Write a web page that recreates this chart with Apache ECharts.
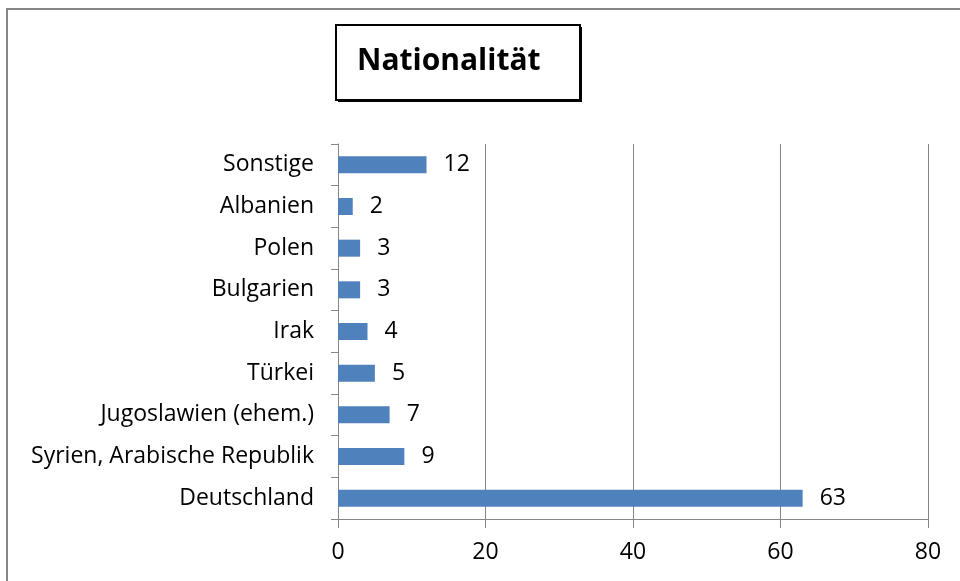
<!DOCTYPE html>
<html><head><meta charset="utf-8">
<script src="https://cdn.jsdelivr.net/npm/echarts@6/dist/echarts.min.js"></script>
<style>html,body{margin:0;padding:0;background:#fff}#c{width:960px;height:581px}</style>
</head><body><div id="c"></div>
<script>
const categories = ["Deutschland","Syrien, Arabische Republik","Jugoslawien (ehem.)","Türkei","Irak","Bulgarien","Polen","Albanien","Sonstige"];
const values = [63,9,7,5,4,3,3,2,12];
const xTicks = [0,20,40,60,80];
const titleText = "Nationalität";

const FONT = "Open Sans";
const chart = echarts.init(document.getElementById('c'), null, {renderer:'canvas'});
chart.setOption({
  backgroundColor:'#fff',
  animation:false,
  graphic:[
    {type:'rect', shape:{x:7,y:9,width:1000,height:1000}, style:{fill:'none',stroke:'#868686',lineWidth:2}, z:-1},
    {type:'rect', shape:{x:338,y:27,width:244,height:75}, style:{fill:'#000'}, z:1},
    {type:'rect', shape:{x:336,y:25,width:244,height:75}, style:{fill:'#fff',stroke:'#000',lineWidth:2}, z:2},
    {type:'text', x:357, y:61, style:{text:titleText, font:'bold 30px "'+FONT+'"', fill:'#000', textVerticalAlign:'middle'}, z:3}
  ],
  grid:{left:338,right:32,top:144,bottom:62},
  xAxis:{type:'value',min:0,max:80,interval:20,
    axisLine:{show:true,lineStyle:{color:'#868686',width:1}},
    axisTick:{show:true,length:9,lineStyle:{color:'#868686'}},
    splitLine:{show:true,lineStyle:{color:'#868686',width:1}},
    axisLabel:{margin:22,color:'#000',fontFamily:FONT,fontSize:23,
      formatter:v=>xTicks.includes(v)?String(v):''}
  },
  yAxis:{type:'category',data:categories,
    axisLine:{show:true,lineStyle:{color:'#868686',width:1}},
    axisTick:{show:true,length:7,lineStyle:{color:'#868686'}},
    axisLabel:{margin:24,color:'#000',fontFamily:FONT,fontSize:23}
  },
  series:[{type:'bar',data:values,barWidth:17,itemStyle:{color:'#4F81BD'},
    label:{show:true,position:'right',distance:17,color:'#000',fontFamily:FONT,fontSize:23}}]
});
</script></body></html>
